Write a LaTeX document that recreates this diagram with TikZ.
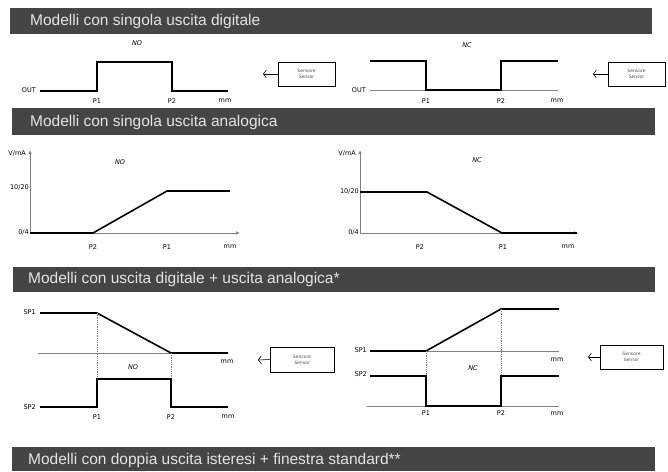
\documentclass[tikz,border=0pt]{standalone}
\usepackage{fontspec}
\setmainfont{Liberation Sans}
\newfontfamily\lblfont{DejaVu Sans}
\usetikzlibrary{arrows.meta}
\definecolor{bannergray}{HTML}{454545}
\definecolor{bannerink}{HTML}{E4E4E4}
\definecolor{axisgray}{HTML}{808080}
\tikzset{
  banner/.style={fill=bannergray},
  bannertext/.style={text=bannerink, font=\fontsize{15.5}{18}\selectfont, anchor=west, inner sep=0pt},
  lbl/.style={font=\lblfont\fontsize{6.5}{7}\selectfont, inner sep=0pt},
  modelbl/.style={font=\lblfont\itshape\fontsize{6.5}{7}\selectfont, inner sep=0pt},
  sigline/.style={line width=1.6pt, line join=miter},
  thinline/.style={line width=0.8pt, axisgray},
  axisline/.style={line width=0.8pt, axisgray, {Latex[length=4pt,width=3.5pt]}-{Latex[length=4pt,width=3.5pt]}},
  guide/.style={densely dotted, line width=0.8pt, axisgray},
  sensorbox/.style={draw, line width=0.8pt, minimum width=57pt, minimum height=24pt, inner sep=0pt, align=center, text=black!70, font=\lblfont\fontsize{4.5}{6}\selectfont},
  feed/.style={line width=0.6pt, -{Straight Barb[length=3pt,width=8pt]}},
}
\begin{document}
\begin{tikzpicture}[x=1pt,y=-1pt]
		\useasboundingbox (0,0) rectangle (668,471);
		%%%%% BANNERS %%%%%
		\fill[banner] (10,8) rectangle (652,34);
		\node[bannertext] (ban1) at (30,21) {Modelli con singola uscita digitale};
		\fill[banner] (12,108) rectangle (655,135);
		\node[bannertext] (ban2) at (30,122) {Modelli con singola uscita analogica};
		\fill[banner] (13,267) rectangle (655,292);
		\node[bannertext] (ban3) at (28,279) {Modelli con uscita digitale + uscita analogica*};
		\fill[banner] (12,447) rectangle (655,471);
		\node[bannertext] (ban4) at (28,460) {Modelli con doppia uscita isteresi + finestra standard**};
		
		%%%%% DIGITAL NO %%%%%
		\node[modelbl] (no1) at (137,43) {NO};
		\draw[sigline] (40,91) -- (97,91) -- (97,62) -- (172,62) -- (172,91) -- (228,91);
		\node[lbl, anchor=east] (out1) at (36,90) {OUT};
		\node[lbl] (p1a) at (97,101) {P1};
		\node[lbl] (p2a) at (172,101) {P2};
		\node[lbl] (mma) at (225,101) {mm};
		\node[sensorbox] (sens1) at (306.5,74) {Sensore\\Sensor};
		\coordinate (tip1) at (263,74);
		\draw[feed] (sens1.west) -- (tip1);
		
		%%%%% DIGITAL NC %%%%%
		\node[modelbl] (nc1) at (467,45) {NC};
		\draw[thinline] (370,90) -- (558,90);
		\draw[sigline] (370,61) -- (426,61) -- (426,90) -- (501,90) -- (501,61) -- (558,61);
		\node[lbl, anchor=east] (out2) at (366,90) {OUT};
		\node[lbl] (p1b) at (426,101) {P1};
		\node[lbl] (p2b) at (501,101) {P2};
		\node[lbl] (mmb) at (557,101) {mm};
		\node[sensorbox] (sens2) at (636.5,74) {Sensore\\Sensor};
		\coordinate (tip2) at (593,74);
		\draw[feed] (sens2.west) -- (tip2);
		
		%%%%% ANALOG NO %%%%%
		\draw[axisline] (30,150) -- (30,233) -- (240,233);
		\draw[sigline] (30,233) -- (93,233) -- (167,191) -- (230,191);
		\node[lbl, anchor=east] (vma) at (26,153) {V/mA};
		\node[lbl, anchor=east] (hia) at (29,187) {10/20};
		\node[lbl, anchor=east] (loa) at (29,232) {0/4};
		\node[modelbl] (no2) at (120,162) {NO};
		\node[lbl] (p2c) at (93,247) {P2};
		\node[lbl] (p1c) at (167,247) {P1};
		\node[lbl] (mmc) at (230,247) {mm};
		
		%%%%% ANALOG NC %%%%%
		\draw[axisline] (360,150) -- (360,233) -- (578,233);
		\draw[sigline] (360,192) -- (427,192) -- (502,233) -- (577,233);
		\node[lbl, anchor=east] (vmb) at (356,153) {V/mA};
		\node[lbl, anchor=east] (hib) at (359,191) {10/20};
		\node[lbl, anchor=east] (lob) at (359,232) {0/4};
		\node[modelbl] (nc2) at (477,160) {NC};
		\node[lbl] (p2d) at (420,247) {P2};
		\node[lbl] (p1d) at (503,247) {P1};
		\node[lbl] (mmd) at (568,247) {mm};
		
		%%%%% DIGITAL + ANALOG NO %%%%%
		\draw[thinline] (38,353) -- (171,353);
		\draw[sigline] (40,313) -- (97,313) -- (171,353) -- (228,353);
		\draw[guide] (97,313) -- (97,379);
		\draw[guide] (171,353) -- (171,379);
		\draw[sigline] (40,407) -- (97,407) -- (97,379) -- (171,379) -- (171,407) -- (228,407);
		\node[lbl, anchor=east] (sp1a) at (36,312) {SP1};
		\node[lbl, anchor=east] (sp2a) at (36,407) {SP2};
		\node[modelbl] (no3) at (133,367) {NO};
		\node[lbl] (mme) at (227,362) {mm};
		\node[lbl] (p1e) at (97,417) {P1};
		\node[lbl] (p2e) at (171,417) {P2};
		\node[lbl] (mmf) at (228,417) {mm};
		\node[sensorbox, minimum width=64pt, minimum height=25pt] (sens3) at (302,359.5) {Sensore\\Sensor};
		\coordinate (tip3) at (258,360);
		\draw[feed] (sens3.west) -- (tip3);
		
		%%%%% DIGITAL + ANALOG NC %%%%%
		\draw[thinline] (370,351) -- (559,351);
		\draw[sigline] (370,351) -- (426,351) -- (501,309) -- (559,309);
		\draw[guide] (426,351) -- (426,376);
		\draw[guide] (501,309) -- (501,376);
		\draw[thinline] (367,406) -- (559,406);
		\draw[sigline] (370,376) -- (426,376) -- (426,406) -- (501,406) -- (501,376) -- (559,376);
		\node[lbl, anchor=east] (sp1b) at (367,350) {SP1};
		\node[lbl, anchor=east] (sp2b) at (367,374) {SP2};
		\node[modelbl] (nc3) at (473,368) {NC};
		\node[lbl] (mmg) at (557,360) {mm};
		\node[lbl] (p1f) at (426,413) {P1};
		\node[lbl] (p2f) at (501,413) {P2};
		\node[lbl] (mmh) at (557,414) {mm};
		\node[sensorbox, minimum width=63pt] (sens4) at (631.5,357) {Sensore\\Sensor};
		\coordinate (tip4) at (588,357);
		\draw[feed] (sens4.west) -- (tip4);
\end{tikzpicture}
\end{document}
